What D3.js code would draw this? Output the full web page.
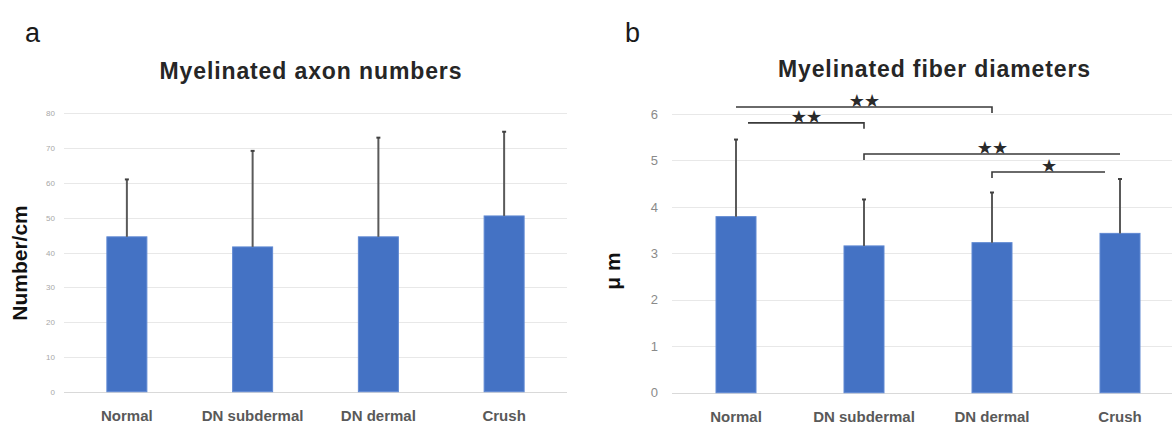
<!DOCTYPE html>
<html>
<head>
<meta charset="utf-8">
<script src="https://cdn.jsdelivr.net/npm/d3@7"></script>
<style>
  body { margin: 0; background: #fff; }
  svg { display: block; font-family: "Liberation Sans", Arial, sans-serif; }
</style>
</head>
<body>
<div id="chart"></div>
<script>
// categories shared by both panels
const categories = ["Normal", "DN subdermal", "DN dermal", "Crush"];

// panel a: myelinated axon numbers (mean, SD)
const axonMean = [44.5, 41.6, 44.5, 50.5];
const axonSD = [16.5, 27.6, 28.5, 24.2];
const axonTicks = [0, 10, 20, 30, 40, 50, 60, 70, 80];

// panel b: myelinated fiber diameters (mean, SD)
const diamMean = [3.79, 3.16, 3.23, 3.43];
const diamSD = [1.66, 1.0, 1.08, 1.17];
const diamTicks = [0, 1, 2, 3, 4, 5, 6];

// significance brackets in panel b
const sigFrom = [0, 0, 1, 2];
const sigTo = [2, 1, 3, 3];
const sigLevel = [6.15, 5.81, 5.14, 4.75];
const sigLabel = ["★★", "★★", "★★", "★"];
const sigDrop = ["right", "right", "left", "left"];

const W = 1172, H = 425;
const barColor = "#4472C4";

var svg = d3.select("#chart")
    .append("svg")
    .attr("width", W)
    .attr("height", H);

svg.append("rect").attr("width", W).attr("height", H).attr("fill", "#fff");

// draw one panel, returns the scales
function drawPanel(opt) {
    var g = svg.append("g");

    var x = d3.scaleBand()
        .domain(categories)
        .range(opt.xRange);
    var y = d3.scaleLinear()
        .domain([0, opt.yMax])
        .range(opt.yRange);

    // grid lines
    g.selectAll(".grid")
        .data(opt.ticks)
        .enter()
        .append("line")
        .attr("x1", opt.xRange[0])
        .attr("x2", opt.gridEnd)
        .attr("y1", function (d) { return Math.round(y(d)) + 0.5; })
        .attr("y2", function (d) { return Math.round(y(d)) + 0.5; })
        .attr("stroke", function (d) { return d === 0 ? "#d9d9d9" : "#e8e8e8"; })
        .attr("stroke-width", 1);

    // y axis tick labels
    var yAxis = g.append("g")
        .attr("transform", "translate(" + (opt.xRange[0] - opt.labelGap) + ",0)")
        .call(d3.axisLeft(y).tickValues(opt.ticks).tickFormat(d3.format("d")).tickSize(0).tickPadding(0));
    yAxis.select(".domain").remove();
    yAxis.selectAll("text")
        .attr("font-family", "Liberation Sans, Arial, sans-serif")
        .attr("font-size", opt.tickSize)
        .attr("fill", opt.tickColor);

    var bw = 40;
    var cx = function (i) { return x(categories[i]) + x.bandwidth() / 2; };

    // bars
    g.selectAll(".bar")
        .data(opt.mean)
        .enter()
        .append("rect")
        .attr("x", function (d, i) { return cx(i) - bw / 2; })
        .attr("y", function (d) { return y(d); })
        .attr("width", bw)
        .attr("height", function (d) { return y(0) - y(d); })
        .attr("fill", barColor)
        .attr("stroke", "#5f88d2")
        .attr("stroke-width", 1);

    // error bars (upper only)
    g.selectAll(".err")
        .data(opt.mean)
        .enter()
        .append("line")
        .attr("x1", function (d, i) { return cx(i); })
        .attr("x2", function (d, i) { return cx(i); })
        .attr("y1", function (d) { return y(d); })
        .attr("y2", function (d, i) { return y(d + opt.sd[i]); })
        .attr("stroke", "#5a5a5a")
        .attr("stroke-width", 2);
    g.selectAll(".cap")
        .data(opt.mean)
        .enter()
        .append("line")
        .attr("x1", function (d, i) { return cx(i) - 2; })
        .attr("x2", function (d, i) { return cx(i) + 2; })
        .attr("y1", function (d, i) { return y(d + opt.sd[i]); })
        .attr("y2", function (d, i) { return y(d + opt.sd[i]); })
        .attr("stroke", "#404040")
        .attr("stroke-width", 2);

    // category labels
    g.selectAll(".cat")
        .data(categories)
        .enter()
        .append("text")
        .attr("x", function (d, i) { return cx(i); })
        .attr("y", opt.catY)
        .attr("text-anchor", "middle")
        .attr("font-size", 15)
        .attr("font-weight", "bold")
        .attr("fill", "#595959")
        .text(function (d) { return d; });

    // title
    svg.append("text")
        .attr("x", opt.titleX)
        .attr("y", opt.titleY)
        .attr("text-anchor", "middle")
        .attr("font-size", 23)
        .attr("font-weight", "bold")
        .attr("fill", "#262626")
        .attr("textLength", opt.titleLen)
        .attr("lengthAdjust", "spacing")
        .text(opt.title);

    // panel letter
    svg.append("text")
        .attr("x", opt.letterX)
        .attr("y", 42)
        .attr("font-size", 27)
        .attr("fill", "#1a1a1a")
        .text(opt.letter);

    // y label
    svg.append("text")
        .attr("transform", "translate(" + opt.ylabX + "," + opt.ylabY + ") rotate(-90)")
        .attr("text-anchor", "middle")
        .attr("font-size", opt.ylabSize)
        .attr("font-weight", "bold")
        .attr("fill", "#111")
        .text(opt.ylab);

    return { x: x, y: y, cx: cx, g: g };
}

drawPanel({
    xRange: [64, 567], gridEnd: 567, yMax: 80, yRange: [391.7, 113.3],
    ticks: axonTicks, mean: axonMean, sd: axonSD,
    labelGap: 9, tickSize: 8, tickColor: "#a8a8a8",
    catY: 421, title: "Myelinated axon numbers", titleX: 310.5, titleY: 79, titleLen: 302,
    letter: "a", letterX: 25, ylab: "Number/cm", ylabX: 27, ylabY: 263, ylabSize: 21
});

var pb = drawPanel({
    xRange: [672, 1184], gridEnd: 1172, yMax: 6, yRange: [392.7, 114],
    ticks: diamTicks, mean: diamMean, sd: diamSD,
    labelGap: 14, tickSize: 13, tickColor: "#8a8a8a",
    catY: 422, title: "Myelinated fiber diameters", titleX: 934, titleY: 77, titleLen: 312,
    letter: "b", letterX: 625, ylab: "\u03bc m", ylabX: 620, ylabY: 271, ylabSize: 21
});

// significance brackets
sigFrom.forEach(function (f, i) {
    var x1 = pb.cx(f), x2 = pb.cx(sigTo[i]);
    var lo = Math.min(x1, x2), hi = Math.max(x1, x2);
    if (sigDrop[i] === "right") lo += (i === 1 ? 12 : 0);
    else hi -= (i === 3 ? 15 : 0);
    var yy = pb.y(sigLevel[i]);
    var dropX = sigDrop[i] === "right" ? hi : lo;
    var path = sigDrop[i] === "right"
        ? "M" + lo + "," + yy + "H" + dropX + "V" + (yy + 6)
        : "M" + dropX + "," + (yy + 6) + "V" + yy + "H" + hi;
    pb.g.append("path")
        .attr("d", path)
        .attr("fill", "none")
        .attr("stroke", "#3a3a3a")
        .attr("stroke-width", 1.6);
    pb.g.append("text")
        .attr("x", (lo + hi) / 2)
        .attr("y", yy)
        .attr("text-anchor", "middle")
        .attr("font-family", "DejaVu Sans, sans-serif")
        .attr("font-size", 18)
        .attr("letter-spacing", -1)
        .attr("fill", "#2a2a2a")
        .text(sigLabel[i]);
});
</script>
</body>
</html>
